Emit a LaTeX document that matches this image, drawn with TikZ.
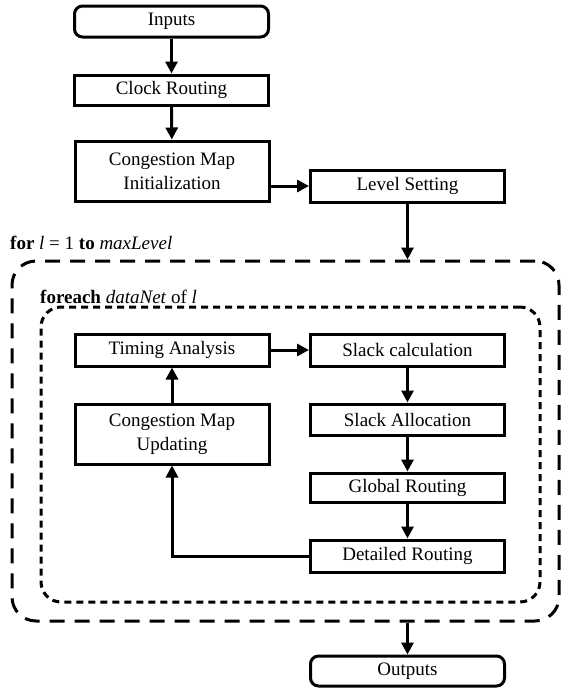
\documentclass[tikz,border=0pt]{standalone}
\usepackage{fontspec}
\setmainfont{Liberation Serif}
\usetikzlibrary{arrows.meta}
\begin{document}
\begin{tikzpicture}[x=1pt,y=-1pt,
  every node/.style={font=\fontsize{19}{22}\selectfont, align=center, inner sep=0pt},
  box/.style={draw, line width=3pt, minimum width=194pt, fill=white},
  rbox/.style={box, rounded corners=8pt},
  arr/.style={line width=3pt, -{Triangle[length=12pt,width=12pt]}},
  outerbox/.style={draw, line width=3pt, dash pattern=on 15pt off 10pt, rounded corners=24pt},
  innerbox/.style={draw, line width=3pt, dash pattern=on 7pt off 5pt, rounded corners=20pt}]
\useasboundingbox (0,0) rectangle (568,689);
% containers
\node[outerbox, minimum width=547pt, minimum height=360pt] (outer) at (285.5,441) {};
\node[innerbox, minimum width=499pt, minimum height=295pt] (inner) at (290.5,454.5) {};
\node[anchor=west] (forlbl) at (10,243) {\textbf{for} \textit{l} = 1 \textbf{to} \textit{maxLevel}};
\node[anchor=west] (foreachlbl) at (40,297) {\textbf{foreach} \textit{dataNet} of \textit{l}};
% nodes
\node[rbox, minimum height=31pt] (in) at (171.5,21.5) {Inputs};
\node[box, minimum height=30pt] (cr) at (171.5,90) {Clock Routing};
\node[box, minimum height=60pt] (cmi) at (172,171) {Congestion Map\\[2pt]Initialization};
\node[box, minimum height=32pt] (ls) at (407.5,186) {Level Setting};
\node[box, minimum height=32pt] (ta) at (172,350) {Timing Analysis};
\node[box, minimum height=60pt] (cmu) at (172,434) {Congestion Map\\[2pt]Updating};
\node[box, minimum height=32pt] (sc) at (407.5,350) {Slack calculation};
\node[box, minimum height=31pt] (sa) at (407.5,419.5) {Slack Allocation};
\node[box, minimum height=29pt] (gr) at (407.5,487.5) {Global Routing};
\node[box, minimum height=32pt] (dr) at (407.5,556) {Detailed Routing};
\node[rbox, minimum height=30pt] (out) at (407.5,671) {Outputs};
% connectors
\draw[arr] (in) -- (cr);
\draw[arr] (cr) -- (cmi);
\draw[arr] (cmi.east |- ls.west) -- (ls.west);
\draw[arr] (ls) -- (ls |- outer.north);
\draw[arr] (ta) -- (sc);
\draw[arr] (sc) -- (sa);
\draw[arr] (sa) -- (gr);
\draw[arr] (gr) -- (dr);
\draw[arr] (dr.west) -| (cmu.south);
\draw[arr] (cmu) -- (ta);
\draw[arr] (outer.south -| out) -- (out);
\end{tikzpicture}
\end{document}
